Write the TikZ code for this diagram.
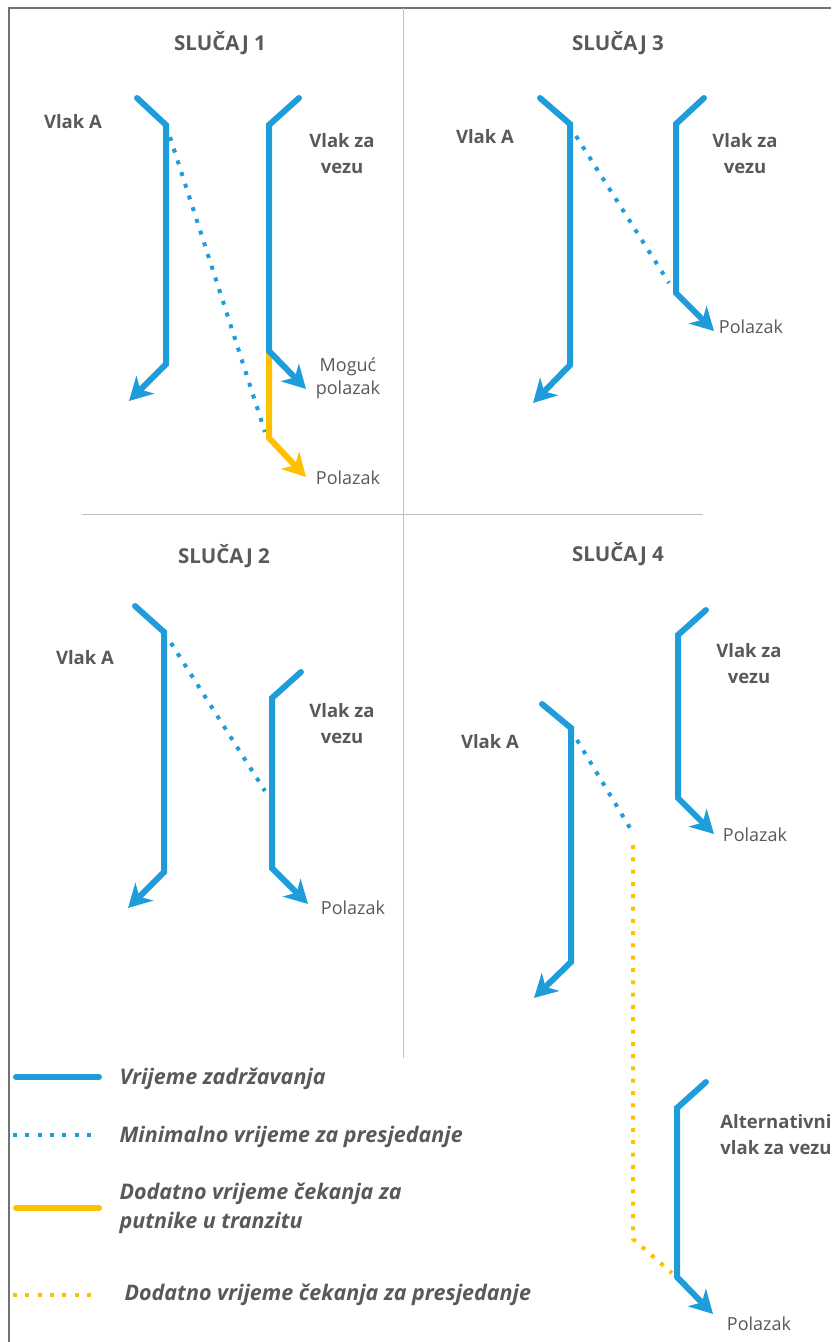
\documentclass[tikz,border=0pt]{standalone}
\usepackage{fontspec}
\setmainfont{Open Sans}
\usetikzlibrary{arrows.meta, positioning}

\definecolor{plava}{HTML}{1F9DDA}
\definecolor{zuta}{HTML}{FFC000}
\definecolor{siva}{HTML}{595959}
\definecolor{svijetla}{HTML}{BFBFBF}

\begin{document}
\begin{tikzpicture}[x=1pt, y=-1pt,
          vlak/.style={line width=6pt, color=plava, line cap=round, line join=miter, -{Stealth[length=23pt, width=25pt, inset=7pt]}},
          cekanje/.style={vlak, color=zuta},
          presjed/.style={line width=4pt, color=plava, dash pattern=on 4pt off 8.3pt},
          presjed_z/.style={presjed, color=zuta},
          naslov/.style={font=\fontsize{20.5}{26}\selectfont\bfseries, text=siva},
          oznaka/.style={font=\fontsize{18.5}{26}\selectfont\bfseries, text=siva, align=center},
          polazak/.style={font=\fontsize{18}{23}\selectfont, text=siva, align=center},
          legenda/.style={font=\fontsize{21.5}{29}\selectfont\bfseries\itshape, text=siva, anchor=west, align=left}]

        \useasboundingbox (0,0) rectangle (831,1342);

        % okvir i podjela
        \coordinate (okvir_d) at (9,1342);
        \coordinate (okvir_k) at (9,8);
        \coordinate (okvir_r) at (831,8);
        \draw [line width=1.5pt, color=siva!85] (okvir_d) -- (okvir_k) -- (okvir_r);
        \coordinate (sred_g) at (403,8);
        \coordinate (sred_d) at (403,1058);
        \coordinate (sred_l) at (82,514);
        \coordinate (sred_r) at (703,514);
        \draw [line width=1pt, color=svijetla] (sred_g) -- (sred_d);
        \draw [line width=1pt, color=svijetla] (sred_l) -- (sred_r);

        % SLUCAJ 1
        \node [naslov] (naslov1) at (220,43) {SLUČAJ 1};
        \node [oznaka] (vlak_a1) at (73,122) {Vlak A};
        \node [oznaka] (veza1) at (342,154) {Vlak za\\vezu};
        \node [polazak] (moguc1) at (348,378) {Moguć\\polazak};
        \node [polazak] (polazak1) at (348,478) {Polazak};
        \coordinate (c1_a1) at (137,98);
        \coordinate (c1_a2) at (166,125);
        \coordinate (c1_a3) at (166,364);
        \coordinate (c1_a4) at (129,401);
        \coordinate (c1_v1) at (299,98);
        \coordinate (c1_v2) at (269,125);
        \coordinate (c1_v3) at (269,351);
        \coordinate (c1_v4) at (306,389);
        \coordinate (c1_v5) at (269,438);
        \coordinate (c1_v6) at (306,477);
        \coordinate (c1_m1) at (170,137);
        \coordinate (c1_m2) at (265,432);
        \draw [presjed] (c1_m1) -- (c1_m2);
        \draw [cekanje] (c1_v3) -- (c1_v5) -- (c1_v6);
        \draw [vlak] (c1_a1) -- (c1_a2) -- (c1_a3) -- (c1_a4);
        \draw [vlak] (c1_v1) -- (c1_v2) -- (c1_v3) -- (c1_v4);

        % SLUCAJ 3
        \node [naslov] (naslov3) at (618,43) {SLUČAJ 3};
        \node [oznaka] (vlak_a3) at (485,137) {Vlak A};
        \node [oznaka] (veza3) at (745,154) {Vlak za\\vezu};
        \node [polazak] (polazak3) at (751,327) {Polazak};
        \coordinate (c3_a1) at (540,98);
        \coordinate (c3_a2) at (570,124);
        \coordinate (c3_a3) at (570,365);
        \coordinate (c3_a4) at (533,403);
        \coordinate (c3_v1) at (704,98);
        \coordinate (c3_v2) at (676,124);
        \coordinate (c3_v3) at (676,293);
        \coordinate (c3_v4) at (714,331);
        \coordinate (c3_m1) at (576,136);
        \coordinate (c3_m2) at (669,283);
        \draw [presjed] (c3_m1) -- (c3_m2);
        \draw [vlak] (c3_a1) -- (c3_a2) -- (c3_a3) -- (c3_a4);
        \draw [vlak] (c3_v1) -- (c3_v2) -- (c3_v3) -- (c3_v4);

        % SLUCAJ 2
        \node [naslov] (naslov2) at (224,556) {SLUČAJ 2};
        \node [oznaka] (vlak_a2) at (85,658) {Vlak A};
        \node [oznaka] (veza2) at (342,724) {Vlak za\\vezu};
        \node [polazak] (polazak2) at (353,908) {Polazak};
        \coordinate (c2_a1) at (135,606);
        \coordinate (c2_a2) at (164,632);
        \coordinate (c2_a3) at (164,872);
        \coordinate (c2_a4) at (128,908);
        \coordinate (c2_v1) at (301,672);
        \coordinate (c2_v2) at (272,698);
        \coordinate (c2_v3) at (272,868);
        \coordinate (c2_v4) at (308,904);
        \coordinate (c2_m1) at (171,643);
        \coordinate (c2_m2) at (265,791);
        \draw [presjed] (c2_m1) -- (c2_m2);
        \draw [vlak] (c2_a1) -- (c2_a2) -- (c2_a3) -- (c2_a4);
        \draw [vlak] (c2_v1) -- (c2_v2) -- (c2_v3) -- (c2_v4);

        % SLUCAJ 4
        \node [naslov] (naslov4) at (618,554) {SLUČAJ 4};
        \node [oznaka] (vlak_a4) at (490,742) {Vlak A};
        \node [oznaka] (veza4) at (749,664) {Vlak za\\vezu};
        \node [polazak] (polazak4) at (755,835) {Polazak};
        \node [oznaka] (alt4) at (776,1135) {Alternativni\\vlak za vezu};
        \node [polazak] (polazak_alt) at (759,1324) {Polazak};
        \coordinate (c4_a1) at (542,704);
        \coordinate (c4_a2) at (571,728);
        \coordinate (c4_a3) at (571,962);
        \coordinate (c4_a4) at (534,998);
        \coordinate (c4_v1) at (706,610);
        \coordinate (c4_v2) at (678,635);
        \coordinate (c4_v3) at (678,798);
        \coordinate (c4_v4) at (714,834);
        \coordinate (c4_m1) at (577,740);
        \coordinate (c4_m2) at (633,833);
        \coordinate (c4_z1) at (633,845);
        \coordinate (c4_z2) at (633,1239);
        \coordinate (c4_z3) at (672,1273);
        \coordinate (c4_b1) at (706,1082);
        \coordinate (c4_b2) at (677,1108);
        \coordinate (c4_b3) at (677,1277);
        \coordinate (c4_b4) at (713,1314);
        \draw [presjed] (c4_m1) -- (c4_m2);
        \draw [presjed_z] (c4_z1) -- (c4_z2) -- (c4_z3);
        \draw [vlak] (c4_a1) -- (c4_a2) -- (c4_a3) -- (c4_a4);
        \draw [vlak] (c4_v1) -- (c4_v2) -- (c4_v3) -- (c4_v4);
        \draw [vlak] (c4_b1) -- (c4_b2) -- (c4_b3) -- (c4_b4);

        % legenda
        \coordinate (leg1_l) at (16,1077);
        \coordinate (leg1_r) at (99,1077);
        \coordinate (leg2_l) at (13,1135);
        \coordinate (leg2_r) at (93,1135);
        \coordinate (leg3_l) at (16,1208);
        \coordinate (leg3_r) at (99,1208);
        \coordinate (leg4_l) at (13,1295);
        \coordinate (leg4_r) at (93,1295);
        \draw [line width=6pt, color=plava, line cap=round] (leg1_l) -- (leg1_r);
        \draw [presjed] (leg2_l) -- (leg2_r);
        \draw [line width=6pt, color=zuta, line cap=round] (leg3_l) -- (leg3_r);
        \draw [presjed_z] (leg4_l) -- (leg4_r);
        \node [legenda] (leg1_txt) at (116,1079) {Vrijeme zadržavanja};
        \node [legenda] (leg2_txt) at (116,1137) {Minimalno vrijeme za presjedanje};
        \node [legenda] (leg3_txt) at (116,1208) {Dodatno vrijeme čekanja za\\putnike u tranzitu};
        \node [legenda] (leg4_txt) at (121,1295) {Dodatno vrijeme čekanja za presjedanje};
      \end{tikzpicture}
\end{document}
